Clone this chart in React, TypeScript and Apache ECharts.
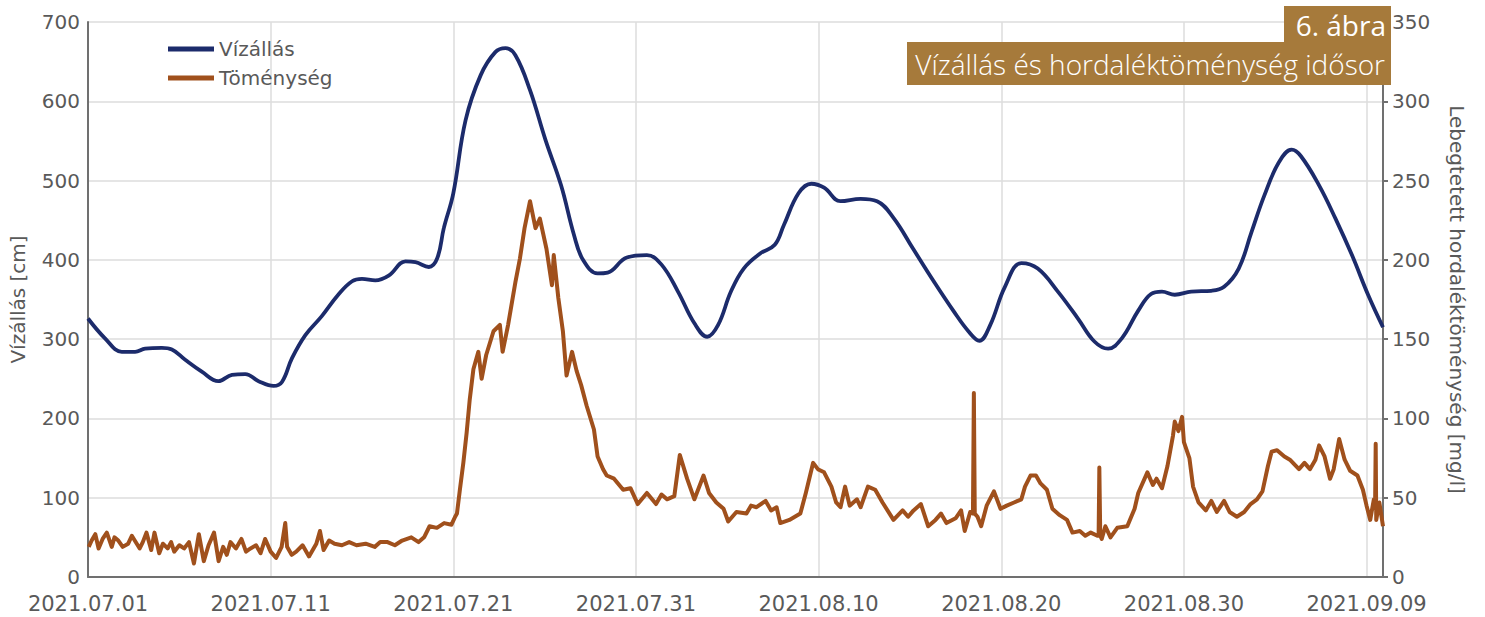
import React, { useEffect, useRef } from "react";
import * as echarts from "echarts";

// x values are days since 2021.07.01 00:00
const xTickLabels = [
  "2021.07.01", "2021.07.11", "2021.07.21", "2021.07.31",
  "2021.08.10", "2021.08.20", "2021.08.30", "2021.09.09",
];

const levelDays = [
  0, 0.93, 1.85, 2.58, 3.13, 4.04, 4.59, 5.32, 6.23, 7.14, 7.88, 8.61, 9.34, 10.16, 10.62,
  11.17, 11.9, 12.8, 13.7, 14.46, 15.0, 15.73, 16.46, 17.38, 17.93, 18.66, 19.12, 19.48,
  20.0, 20.67, 21.5, 22.3, 22.86, 23.4, 24.2, 25.05, 25.9, 26.6, 27.1, 27.9, 28.45, 29.5,
  30.6, 31.4, 32.3, 33.2, 33.9, 34.5, 35.2, 35.9, 36.8, 37.6, 38.1, 38.9, 39.6, 40.3, 41.2,
  42.3, 43.2, 44.1, 45.2, 46.3, 47.4, 48.2, 48.8, 49.4, 50.2, 51.1, 52.0, 53.1, 54.2, 55.1,
  55.85, 56.6, 57.5, 58.2, 58.8, 59.5, 60.4, 61.5, 62.2, 63.0, 63.7, 64.4, 65.2, 65.9, 66.4,
  67.4, 68.3, 69.2, 70.1, 70.9,
];
const levelValues = [
  326, 301, 284, 284, 288, 289, 287, 274, 259, 247, 255, 256, 247, 241, 246,
  276, 305, 329, 356, 373, 376, 374, 380, 398, 397, 391, 402, 440,
  484, 576, 633, 662, 667, 658, 614, 551, 494, 432, 400, 383, 384, 403,
  406, 394, 360, 320, 303, 318, 360, 389, 408, 419, 444, 484, 496, 491, 474,
  477, 474, 453, 413, 373, 335, 310, 298, 318, 366, 396, 389, 360, 326, 297,
  288, 301, 336, 357, 360, 356, 360, 361, 366, 389, 435, 481, 523, 539, 531,
  494, 452, 406, 355, 315,
];

const concDays = [
  0.04, 0.2, 0.4, 0.58, 0.8, 1.03, 1.3, 1.45, 1.66, 1.9, 2.2, 2.4, 2.56, 2.83, 3.0, 3.2,
  3.46, 3.64, 3.9, 4.1, 4.36, 4.55, 4.72, 5.0, 5.26, 5.53, 5.8, 6.07, 6.34, 6.6, 6.9, 7.15,
  7.4, 7.6, 7.8, 8.1, 8.4, 8.65, 8.9, 9.2, 9.45, 9.7, 10.0, 10.3, 10.6, 10.8, 10.9, 11.15,
  11.4, 11.75, 12.1, 12.5, 12.7, 12.9, 13.2, 13.5, 13.9, 14.3, 14.7, 15.2, 15.7, 16.0, 16.4,
  16.8, 17.2, 17.7, 18.1, 18.4, 18.7, 19.1, 19.5, 19.9, 20.1, 20.2, 20.36, 20.55, 20.73,
  20.9, 21.1, 21.37, 21.55, 21.8, 22.2, 22.55, 22.7, 23.0, 23.4, 23.65, 23.9, 24.2, 24.5,
  24.74, 25.1, 25.4, 25.5, 25.75, 26.0, 26.2, 26.5, 26.75, 27.0, 27.3, 27.7, 27.9, 28.2,
  28.4, 28.8, 29.3, 29.7, 30.1, 30.6, 31.1, 31.4, 31.7, 32.1, 32.4, 32.8, 33.2, 33.7, 34.0,
  34.4, 34.8, 35.05, 35.5, 36.05, 36.3, 36.6, 37.1, 37.4, 37.7, 37.9, 38.4, 39.0, 39.3,
  39.7, 39.96, 40.3, 40.7, 40.96, 41.2, 41.45, 41.7, 42.1, 42.3, 42.7, 43.1, 43.5, 44.1,
  44.6, 44.9, 45.2, 45.6, 46.0, 46.4, 46.7, 47.0, 47.5, 47.8, 48.0, 48.3, 48.45, 48.5, 48.55,
  48.7, 48.9, 49.2, 49.6, 49.96, 50.3, 50.7, 51.1, 51.3, 51.6, 51.9, 52.15, 52.5, 52.8,
  53.2, 53.6, 53.9, 54.3, 54.6, 54.9, 55.26, 55.33, 55.37, 55.42, 55.5, 55.7, 55.98, 56.35,
  56.9, 57.3, 57.5, 58.0, 58.3, 58.5, 58.8, 59.1, 59.4, 59.5, 59.7, 59.9, 60.0, 60.3, 60.5,
  60.8, 61.2, 61.5, 61.8, 62.2, 62.5, 62.9, 63.3, 63.65, 64.0, 64.3, 64.6, 64.8, 65.1, 65.5,
  65.8, 66.3, 66.6, 66.9, 67.2, 67.4, 67.7, 68.0, 68.2, 68.5, 68.8, 69.1, 69.5, 69.8, 70.0,
  70.2, 70.4, 70.47, 70.5, 70.53, 70.7, 70.9,
];
const concValues = [
  19, 23, 27, 18, 24, 28, 19, 25, 23, 19, 21, 26, 23, 18, 22, 28,
  17, 28, 15, 21, 18, 22, 16, 20, 18, 22, 8.5, 27, 10, 20, 28, 10,
  19, 14, 22, 18, 24, 16, 18, 20, 15, 24, 16, 12, 19, 34, 19, 14,
  16, 20, 13, 21, 29, 17, 23, 21, 20, 22, 20, 21, 19, 22, 22,
  20, 23, 25, 22, 25, 32, 31, 34, 33, 38, 40, 55, 72, 91,
  112, 131, 142, 125, 140, 155, 159, 142, 159, 186, 201, 220, 237, 220,
  226, 207, 184, 203, 176, 155, 127, 142, 130, 121, 108, 93, 76, 68,
  64, 62, 55, 56, 46, 53, 46, 52, 49, 51, 77, 62, 49, 64, 53,
  47, 43, 35, 41, 40, 45, 44, 48, 42, 44, 34, 36, 40, 53,
  72, 68, 66, 57, 47, 44, 57, 45, 49, 44, 57, 55, 47, 36,
  42, 38, 42, 46, 32, 36, 40, 34, 37, 42, 29, 41, 40, 116, 40,
  38, 32, 45, 54, 43, 45, 47, 49, 57, 64, 64, 59, 55, 43,
  39, 36, 28, 29, 26, 28, 26, 26, 69, 26, 24, 32, 25, 31,
  32, 43, 53, 66, 58, 62, 56, 70, 89, 98, 92, 101, 85, 75, 57,
  47, 42, 48, 41, 48, 41, 38, 41, 46, 49, 54, 70, 79, 80, 76,
  74, 68, 72, 68, 74, 83, 76, 62, 68, 87, 74, 67, 64, 55, 45,
  36, 49, 49, 84, 36, 47, 32,
];

const seriesNames = ["Vízállás", "Töménység"];
const leftAxisName = "Vízállás [cm]";
const rightAxisName = "Lebegtetett hordaléktöménység [mg/l]";
const figureNo = "6. ábra";
const figureTitle = "Vízállás és hordaléktöménység idősor";

const BLUE = "#1c2b6b";
const ORANGE = "#a0501c";
const GOLD = "#a67a3b";
const LABEL = "#595959";
const AXIS = "#707070";
const GRID = "#dcdcdc";
const FONT = "DejaVu Sans";

export default function App() {
  const ref = useRef<HTMLDivElement>(null);
  useEffect(() => {
    if (!ref.current) return;
    const chart = echarts.init(ref.current, undefined, { renderer: "svg" });
    const levelData = levelDays.map((d, i) => [d, levelValues[i]]);
    const concData = concDays.map((d, i) => [d, concValues[i]]);
    chart.setOption({
      animation: false,
      backgroundColor: "#ffffff",
      grid: { left: 88, right: 102, top: 22, bottom: 40 },
      legend: {
        orient: "vertical",
        left: 163,
        top: 34,
        itemWidth: 46,
        itemHeight: 5,
        itemGap: 9,
        icon: "rect",
        textStyle: { fontSize: 20, color: LABEL, fontFamily: FONT },
        data: seriesNames,
      },
      xAxis: {
        type: "value",
        min: 0,
        max: 70.9,
        interval: 10,
        axisLine: { show: true, lineStyle: { color: AXIS, width: 2 } },
        axisTick: { show: false },
        splitLine: { show: true, lineStyle: { color: GRID, width: 1.5 } },
        axisLabel: {
          fontSize: 21,
          color: LABEL,
          fontFamily: FONT,
          margin: 16,
          showMaxLabel: false,
          formatter: (v: number) => {
            const i = Math.round(v / 10);
            return Math.abs(v - i * 10) < 1e-6 ? xTickLabels[i] ?? "" : "";
          },
        },
      },
      yAxis: [
        {
          type: "value",
          min: 0,
          max: 700,
          interval: 100,
          name: leftAxisName,
          nameLocation: "middle",
          nameGap: 60,
          nameTextStyle: { fontSize: 20, color: LABEL, fontFamily: FONT },
          axisLine: { show: true, lineStyle: { color: AXIS, width: 2 } },
          axisTick: { show: false },
          splitLine: { show: true, lineStyle: { color: GRID, width: 1.5 } },
          axisLabel: { fontSize: 20, color: LABEL, fontFamily: FONT, margin: 8 },
        },
        {
          type: "value",
          min: 0,
          max: 350,
          interval: 50,
          position: "right",
          name: rightAxisName,
          nameLocation: "middle",
          nameGap: 64,
          nameRotate: -90,
          nameTextStyle: { fontSize: 20, color: LABEL, fontFamily: FONT },
          axisLine: { show: true, lineStyle: { color: AXIS, width: 2 } },
          axisTick: { show: true, length: 5, lineStyle: { color: AXIS, width: 2 } },
          splitLine: { show: false },
          axisLabel: { fontSize: 20, color: LABEL, fontFamily: FONT, margin: 9 },
        },
      ],
      series: [
        {
          name: seriesNames[0],
          type: "line",
          yAxisIndex: 0,
          data: levelData,
          smooth: 0.4,
          showSymbol: false,
          color: BLUE,
          lineStyle: { color: BLUE, width: 3.8 },
          z: 3,
        },
        {
          name: seriesNames[1],
          type: "line",
          yAxisIndex: 1,
          data: concData,
          showSymbol: false,
          color: ORANGE,
          lineStyle: { color: ORANGE, width: 4, join: "round" },
          z: 2,
        },
      ],
      graphic: [
        {
          type: "rect",
          shape: { x: 1284, y: 6, width: 107, height: 36 },
          style: { fill: GOLD },
          z: 10,
        },
        {
          type: "rect",
          shape: { x: 907, y: 42, width: 484, height: 43 },
          style: { fill: GOLD },
          z: 10,
        },
        {
          type: "text",
          x: 1386,
          y: 25,
          z: 11,
          style: {
            text: figureNo,
            fill: "#ffffff",
            fontSize: 28,
            fontFamily: "Open Sans",
            fontWeight: 400,
            align: "right",
            verticalAlign: "middle",
            textAlign: "right",
            textVerticalAlign: "middle",
          },
        },
        {
          type: "text",
          x: 1385,
          y: 64,
          z: 11,
          style: {
            text: figureTitle,
            fill: "#ffffff",
            fontSize: 28,
            fontFamily: "Open Sans",
            fontWeight: 300,
            align: "right",
            verticalAlign: "middle",
            textAlign: "right",
            textVerticalAlign: "middle",
          },
        },
      ],
    });
    return () => chart.dispose();
  }, []);
  return (
    <div
      ref={ref}
      style={{ position: "absolute", left: 0, top: 0, width: 1485, height: 617, background: "#fff" }}
    />
  );
}
